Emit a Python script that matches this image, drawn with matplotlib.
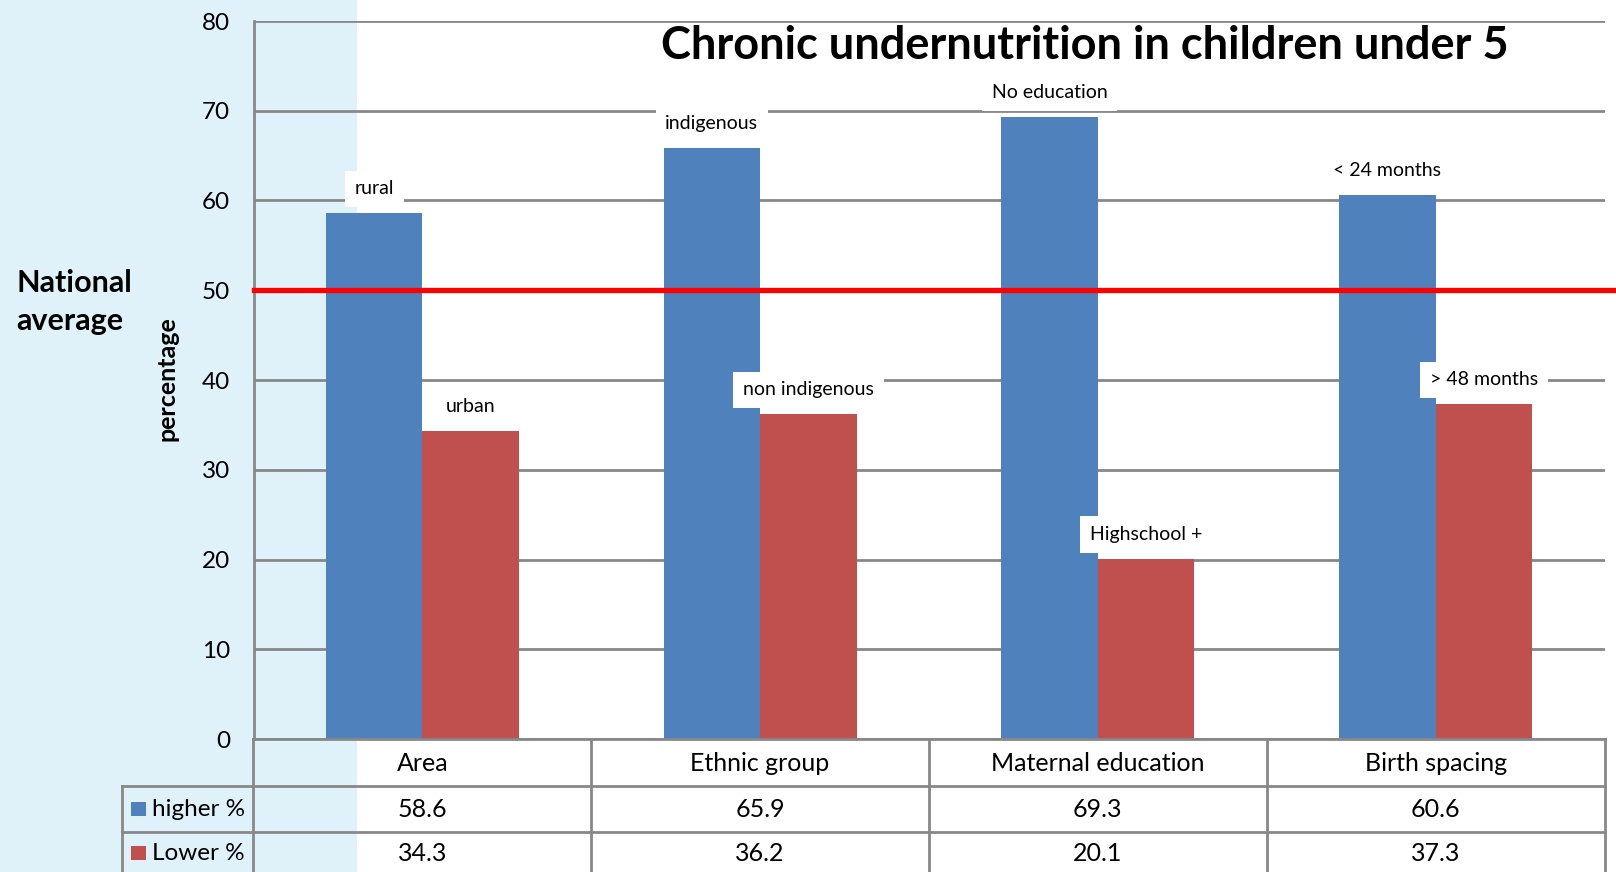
import matplotlib
matplotlib.use('Agg')
import matplotlib.pyplot as plt
from matplotlib.patches import Rectangle
from matplotlib.lines import Line2D
from matplotlib.transforms import blended_transform_factory
import numpy as np

categories = ['Area', 'Ethnic group', 'Maternal education', 'Birth spacing']
higher = [58.6, 65.9, 69.3, 60.6]
lower = [34.3, 36.2, 20.1, 37.3]
higher_labels = ['rural', 'indigenous', 'No education', '< 24 months']
lower_labels = ['urban', 'non indigenous', 'Highschool +', '> 48 months']
series_names = ['higher %', 'Lower %']
national_average = 50
yticks = [0, 10, 20, 30, 40, 50, 60, 70, 80]
title = 'Chronic undernutrition in children under 5'

plt.rcParams['font.family'] = ['Lato', 'DejaVu Sans']

BLUE = '#4F81BD'
RED = '#C0504D'
GRID = '#888888'

W, H = 1616, 872
fig = plt.figure(figsize=(W / 100, H / 100), dpi=100)
fig.patch.set_facecolor('white')

def fx(px):
    return px / W

def fy(py):
    return 1 - py / H

# light blue band on the left
fig.patches.append(Rectangle((0, 0), fx(357), 1, transform=fig.transFigure,
                             facecolor='#DFF1F9', edgecolor='none', zorder=-10))

ax_left, ax_right, ax_top, ax_bottom = 253.5, 1604.5, 21, 739
ax = fig.add_axes([fx(ax_left), fy(ax_bottom), fx(ax_right - ax_left), (ax_bottom - ax_top) / H])
ax.set_facecolor('none')
ax.set_zorder(1)

n = len(categories)
x = np.arange(n)
w = 1 / 3.5
ax.bar(x - w / 2, higher, w, color=BLUE, zorder=2)
ax.bar(x + w / 2, lower, w, color=RED, zorder=2)

ax.set_xlim(-0.5, n - 0.5)
ax.set_ylim(0, 80)
ax.set_yticks(yticks)
ax.set_xticks([])
ax.yaxis.grid(True, color=GRID, lw=2)
ax.set_axisbelow(True)
for s in ['top', 'right']:
    ax.spines[s].set_visible(False)
for s in ['left', 'bottom']:
    ax.spines[s].set_color(GRID)
    ax.spines[s].set_linewidth(2)
ax.tick_params(axis='y', length=0, pad=17, labelsize=17.5)

# labels above bars
for i in range(n):
    for xo, val, lbl in [(x[i] - w / 2, higher[i], higher_labels[i]),
                         (x[i] + w / 2, lower[i], lower_labels[i])]:
        ax.annotate(lbl, (xo, val), xytext=(0, 17.5), textcoords='offset points',
                    ha='center', va='center', fontsize=14, zorder=5,
                    bbox=dict(boxstyle='square,pad=0.5', fc='white', ec='none'))

# national average line
tr_fy = blended_transform_factory(fig.transFigure, ax.transData)
ax.add_line(Line2D([fx(ax_left), 1.0], [national_average, national_average],
                   transform=tr_fy, color='#FF0000', lw=3.8, clip_on=False, zorder=4))

# data table
tr_df = blended_transform_factory(ax.transData, fig.transFigure)
row_lines = [786, 832]
row_centers = [763, 809, 853]
leg_left = 121.6
for py in row_lines:
    fig.add_artist(Line2D([fx(leg_left), fx(ax_right)], [fy(py), fy(py)],
                          transform=fig.transFigure, color=GRID, lw=2, zorder=2))
for b in np.arange(n + 1) - 0.5:
    fig.add_artist(Line2D([b, b], [fy(ax_bottom), 0], transform=tr_df, color=GRID, lw=2, zorder=2))
fig.add_artist(Line2D([fx(leg_left), fx(leg_left)], [fy(row_lines[0]), 0],
                      transform=fig.transFigure, color=GRID, lw=2, zorder=2))

for i, c in enumerate(categories):
    fig.text(x[i], fy(row_centers[0]), c, transform=tr_df, ha='center', va='center', fontsize=18)
    fig.text(x[i], fy(row_centers[1]), f'{higher[i]:.1f}', transform=tr_df, ha='center', va='center', fontsize=18)
    fig.text(x[i], fy(row_centers[2]), f'{lower[i]:.1f}', transform=tr_df, ha='center', va='center', fontsize=18)

for name, col, yc in [(series_names[0], BLUE, row_centers[1]), (series_names[1], RED, row_centers[2])]:
    fig.patches.append(Rectangle((fx(131), fy(yc + 7)), fx(14.5), 14.5 / H,
                                 transform=fig.transFigure, facecolor=col, edgecolor='none', zorder=2))
    fig.text(fx(152.5), fy(yc), name, ha='left', va='center', fontsize=17.5)

# side texts and title
fig.text(fx(16.5), fy(283), 'National', ha='left', va='center', fontsize=22, fontweight='bold')
fig.text(fx(16.5), fy(321), 'average', ha='left', va='center', fontsize=22, fontweight='bold')
fig.text(fx(167), fy(379), 'percentage', ha='center', va='center', rotation=90,
         fontsize=18, fontweight='bold')
fig.text(fx(1085), fy(46), title, ha='center', va='center', fontsize=32.5, fontweight='bold')

fig.savefig('out.png', dpi=100)
